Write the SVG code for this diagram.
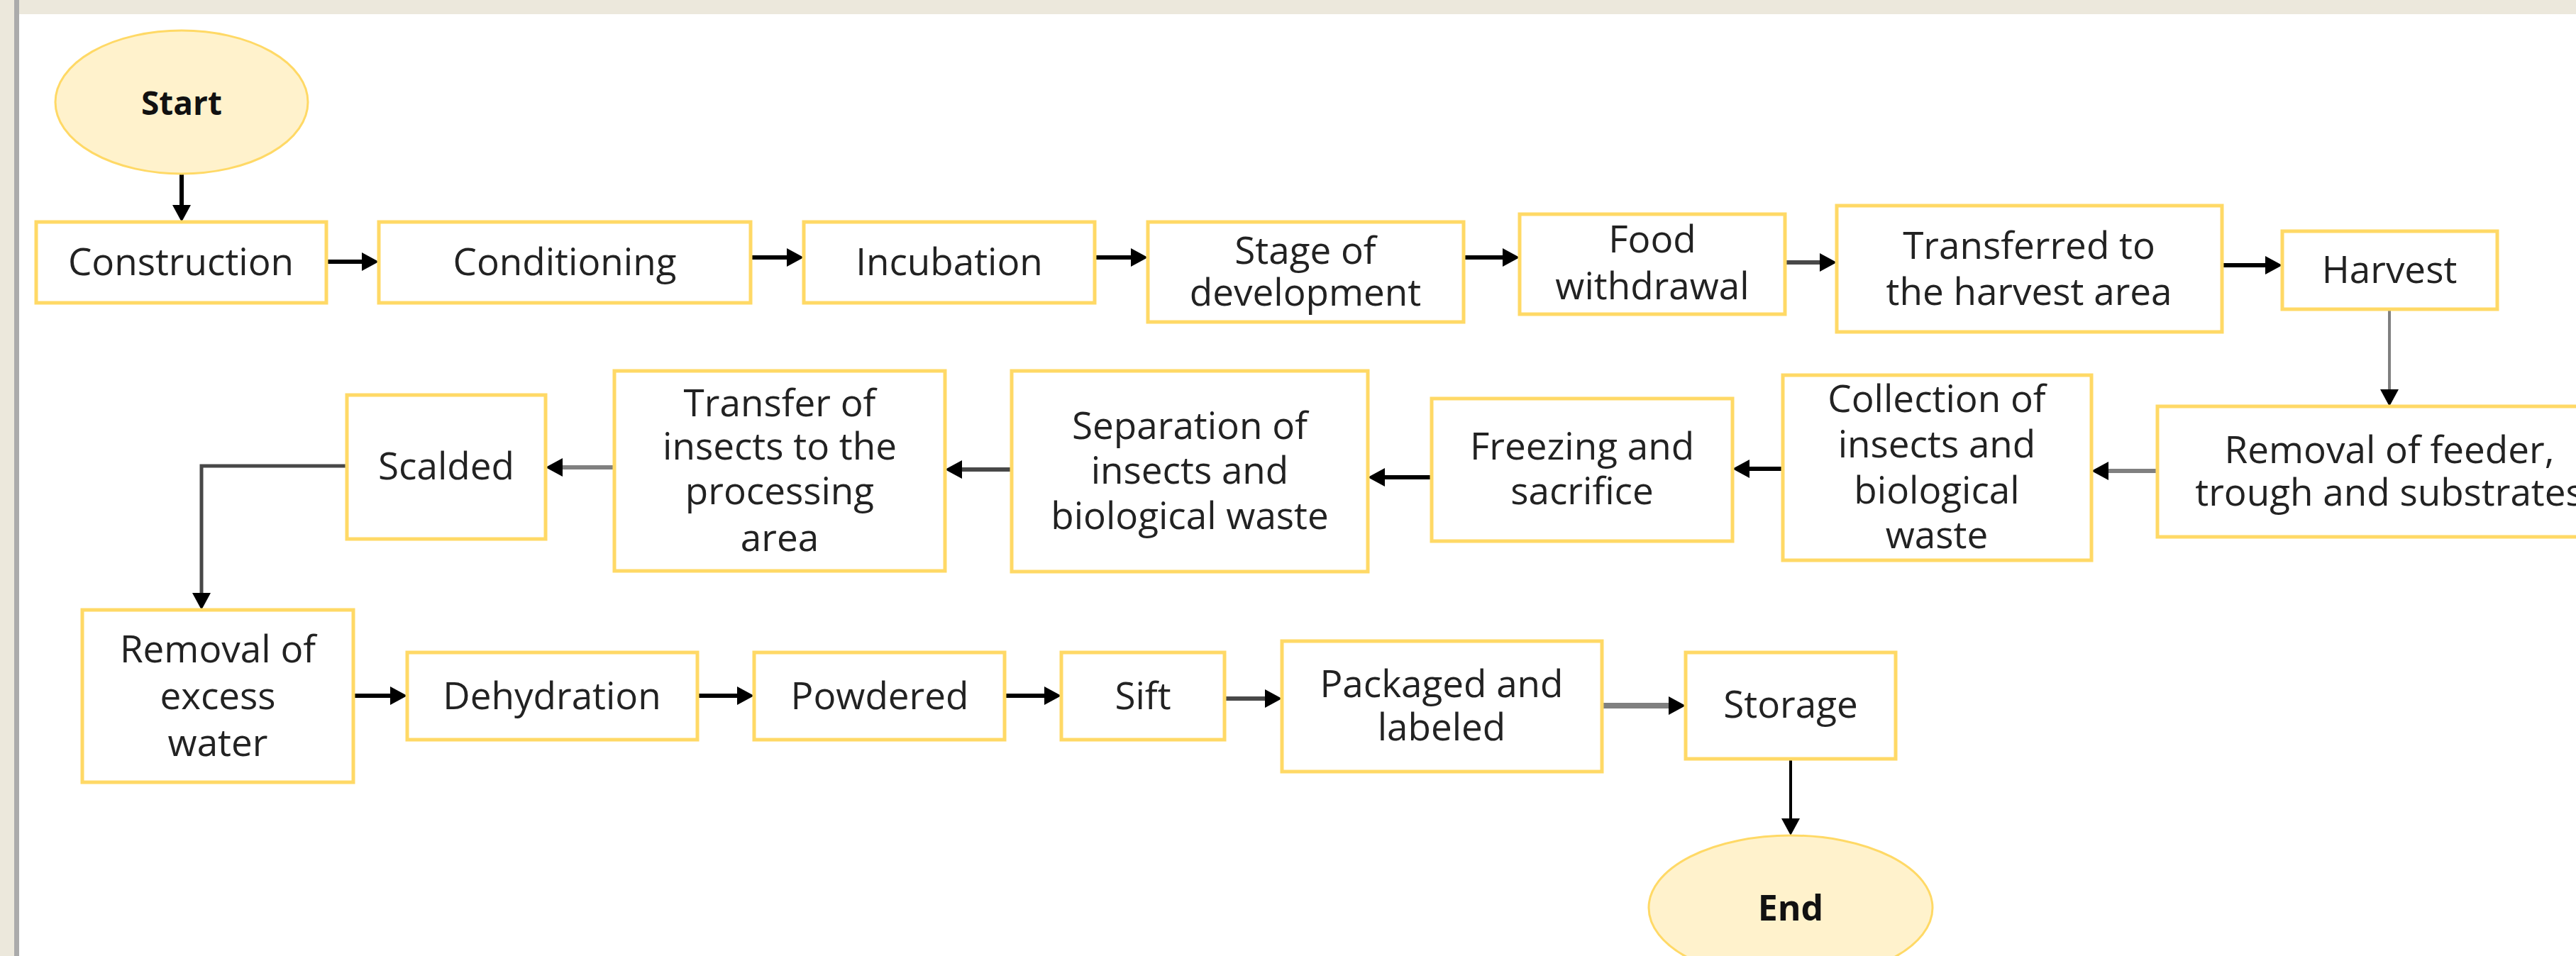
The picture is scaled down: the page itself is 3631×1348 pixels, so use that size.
<svg xmlns="http://www.w3.org/2000/svg" width="3631" height="1348" viewBox="0 0 3631 1348">
<style>
.box{fill:#fff;stroke:#FFD966;stroke-width:5}
.term{fill:#FFF2CC;stroke:#FFD966;stroke-width:3}
.t{font-family:"Open Sans","Liberation Sans",sans-serif;font-size:53px;fill:#222;text-anchor:middle}
.tb{font-family:"Open Sans","Liberation Sans",sans-serif;font-weight:bold;fill:#111;text-anchor:middle}
.c{fill:none;stroke-width:6;marker-end:url(#ah)}
.k{stroke:#000}
.g{stroke:#808080}
.d{stroke:#484848}
</style>
<defs>
<marker id="ah" markerUnits="userSpaceOnUse" markerWidth="24" markerHeight="26" refX="12" refY="13" orient="auto">
<path d="M0,0 L24,13 L0,26 z" fill="#000"/>
</marker>
</defs>
<rect x="0" y="0" width="3631" height="1348" fill="#fff"/>
<rect x="0" y="0" width="3631" height="20" fill="#ECE8DC"/>
<rect x="0" y="0" width="20" height="1348" fill="#ECE8DC"/>
<rect x="20" y="0" width="7" height="1348" fill="#ABABAB"/>

<g id="connectors">
<path class="c k" d="M256,246 V301"/>
<path class="c k" d="M460,369 H522"/>
<path class="c k" d="M1058,363 H1121"/>
<path class="c k" d="M1543,363 H1606"/>
<path class="c k" d="M2063,363 H2130"/>
<path class="c d" d="M2516,370 H2577"/>
<path class="c k" d="M3132,374 H3205"/>
<path class="c g" d="M3368,436 V561" style="stroke-width:4"/>
<path class="c g" d="M3041,664 H2960"/>
<path class="c k" d="M2513,661 H2454"/>
<path class="c k" d="M2018,673 H1940"/>
<path class="c d" d="M1426,662 H1344"/>
<path class="c g" d="M866,659 H781"/>
<path class="c d" d="M489,657 H284 V848" style="stroke-width:5"/>
<path class="c k" d="M498,981 H562"/>
<path class="c k" d="M983,981 H1051"/>
<path class="c k" d="M1416,981 H1484"/>
<path class="c d" d="M1726,985 H1795"/>
<path class="c g" d="M2258,995 H2364" style="stroke-width:8"/>
<path class="c k" d="M2524,1070 V1166" style="stroke-width:4"/>
</g>

<g id="start"><ellipse class="term" cx="256" cy="144" rx="178" ry="101"/><text class="tb" x="256" y="162" font-size="46">Start</text></g>
<g id="construction"><rect class="box" x="51" y="313" width="409" height="114"/><text class="t" x="255" y="388">Construction</text></g>
<g id="conditioning"><rect class="box" x="534" y="313" width="524" height="114"/><text class="t" x="796" y="388">Conditioning</text></g>
<g id="incubation"><rect class="box" x="1133" y="313" width="410" height="114"/><text class="t" x="1338" y="388">Incubation</text></g>
<g id="stage"><rect class="box" x="1618" y="313" width="445" height="141"/><text class="t" x="1840" y="372"><tspan x="1840">Stage of</tspan><tspan x="1840" dy="59">development</tspan></text></g>
<g id="food"><rect class="box" x="2142" y="302" width="374" height="141"/><text class="t" x="2329" y="356"><tspan x="2329">Food</tspan><tspan x="2329" dy="66">withdrawal</tspan></text></g>
<g id="transferred"><rect class="box" x="2589" y="290" width="543" height="178"/><text class="t" x="2860" y="365"><tspan x="2860">Transferred to</tspan><tspan x="2860" dy="65">the harvest area</tspan></text></g>
<g id="harvest"><rect class="box" x="3217" y="326" width="303" height="110"/><text class="t" x="3368" y="399">Harvest</text></g>
<g id="removal-feeder"><rect class="box" x="3041" y="573" width="660" height="184"/><text class="t" x="3368" y="653"><tspan x="3368">Removal of feeder,</tspan><tspan x="3368" dy="60">trough and substrates</tspan></text></g>
<g id="collection"><rect class="box" x="2513" y="529" width="435" height="261"/><text class="t" x="2730" y="581"><tspan x="2730">Collection of</tspan><tspan x="2730" dy="64">insects and</tspan><tspan x="2730" dy="65">biological</tspan><tspan x="2730" dy="63">waste</tspan></text></g>
<g id="freezing"><rect class="box" x="2018" y="562" width="424" height="201"/><text class="t" x="2230" y="648"><tspan x="2230">Freezing and</tspan><tspan x="2230" dy="63">sacrifice</tspan></text></g>
<g id="separation"><rect class="box" x="1426" y="523" width="502" height="283"/><text class="t" x="1677" y="619"><tspan x="1677">Separation of</tspan><tspan x="1677" dy="63">insects and</tspan><tspan x="1677" dy="64">biological waste</tspan></text></g>
<g id="transfer"><rect class="box" x="866" y="523" width="466" height="282"/><text class="t" x="1099" y="587"><tspan x="1099">Transfer of</tspan><tspan x="1099" dy="61">insects to the</tspan><tspan x="1099" dy="63">processing</tspan><tspan x="1099" dy="66">area</tspan></text></g>
<g id="scalded"><rect class="box" x="489" y="557" width="280" height="203"/><text class="t" x="629" y="676">Scalded</text></g>
<g id="removal-water"><rect class="box" x="116" y="860" width="382" height="243"/><text class="t" x="307" y="934"><tspan x="307">Removal of</tspan><tspan x="307" dy="66">excess</tspan><tspan x="307" dy="66">water</tspan></text></g>
<g id="dehydration"><rect class="box" x="574" y="920" width="409" height="123"/><text class="t" x="778" y="1000">Dehydration</text></g>
<g id="powdered"><rect class="box" x="1063" y="920" width="353" height="123"/><text class="t" x="1240" y="1000">Powdered</text></g>
<g id="sift"><rect class="box" x="1496" y="920" width="230" height="123"/><text class="t" x="1611" y="1000">Sift</text></g>
<g id="packaged"><rect class="box" x="1807" y="904" width="451" height="184"/><text class="t" x="2032" y="983"><tspan x="2032">Packaged and</tspan><tspan x="2032" dy="61">labeled</tspan></text></g>
<g id="storage"><rect class="box" x="2376" y="920" width="296" height="150"/><text class="t" x="2524" y="1012">Storage</text></g>
<g id="end"><ellipse class="term" cx="2524" cy="1280" rx="200" ry="102"/><text class="tb" x="2524" y="1298" font-size="50">End</text></g>
</svg>
